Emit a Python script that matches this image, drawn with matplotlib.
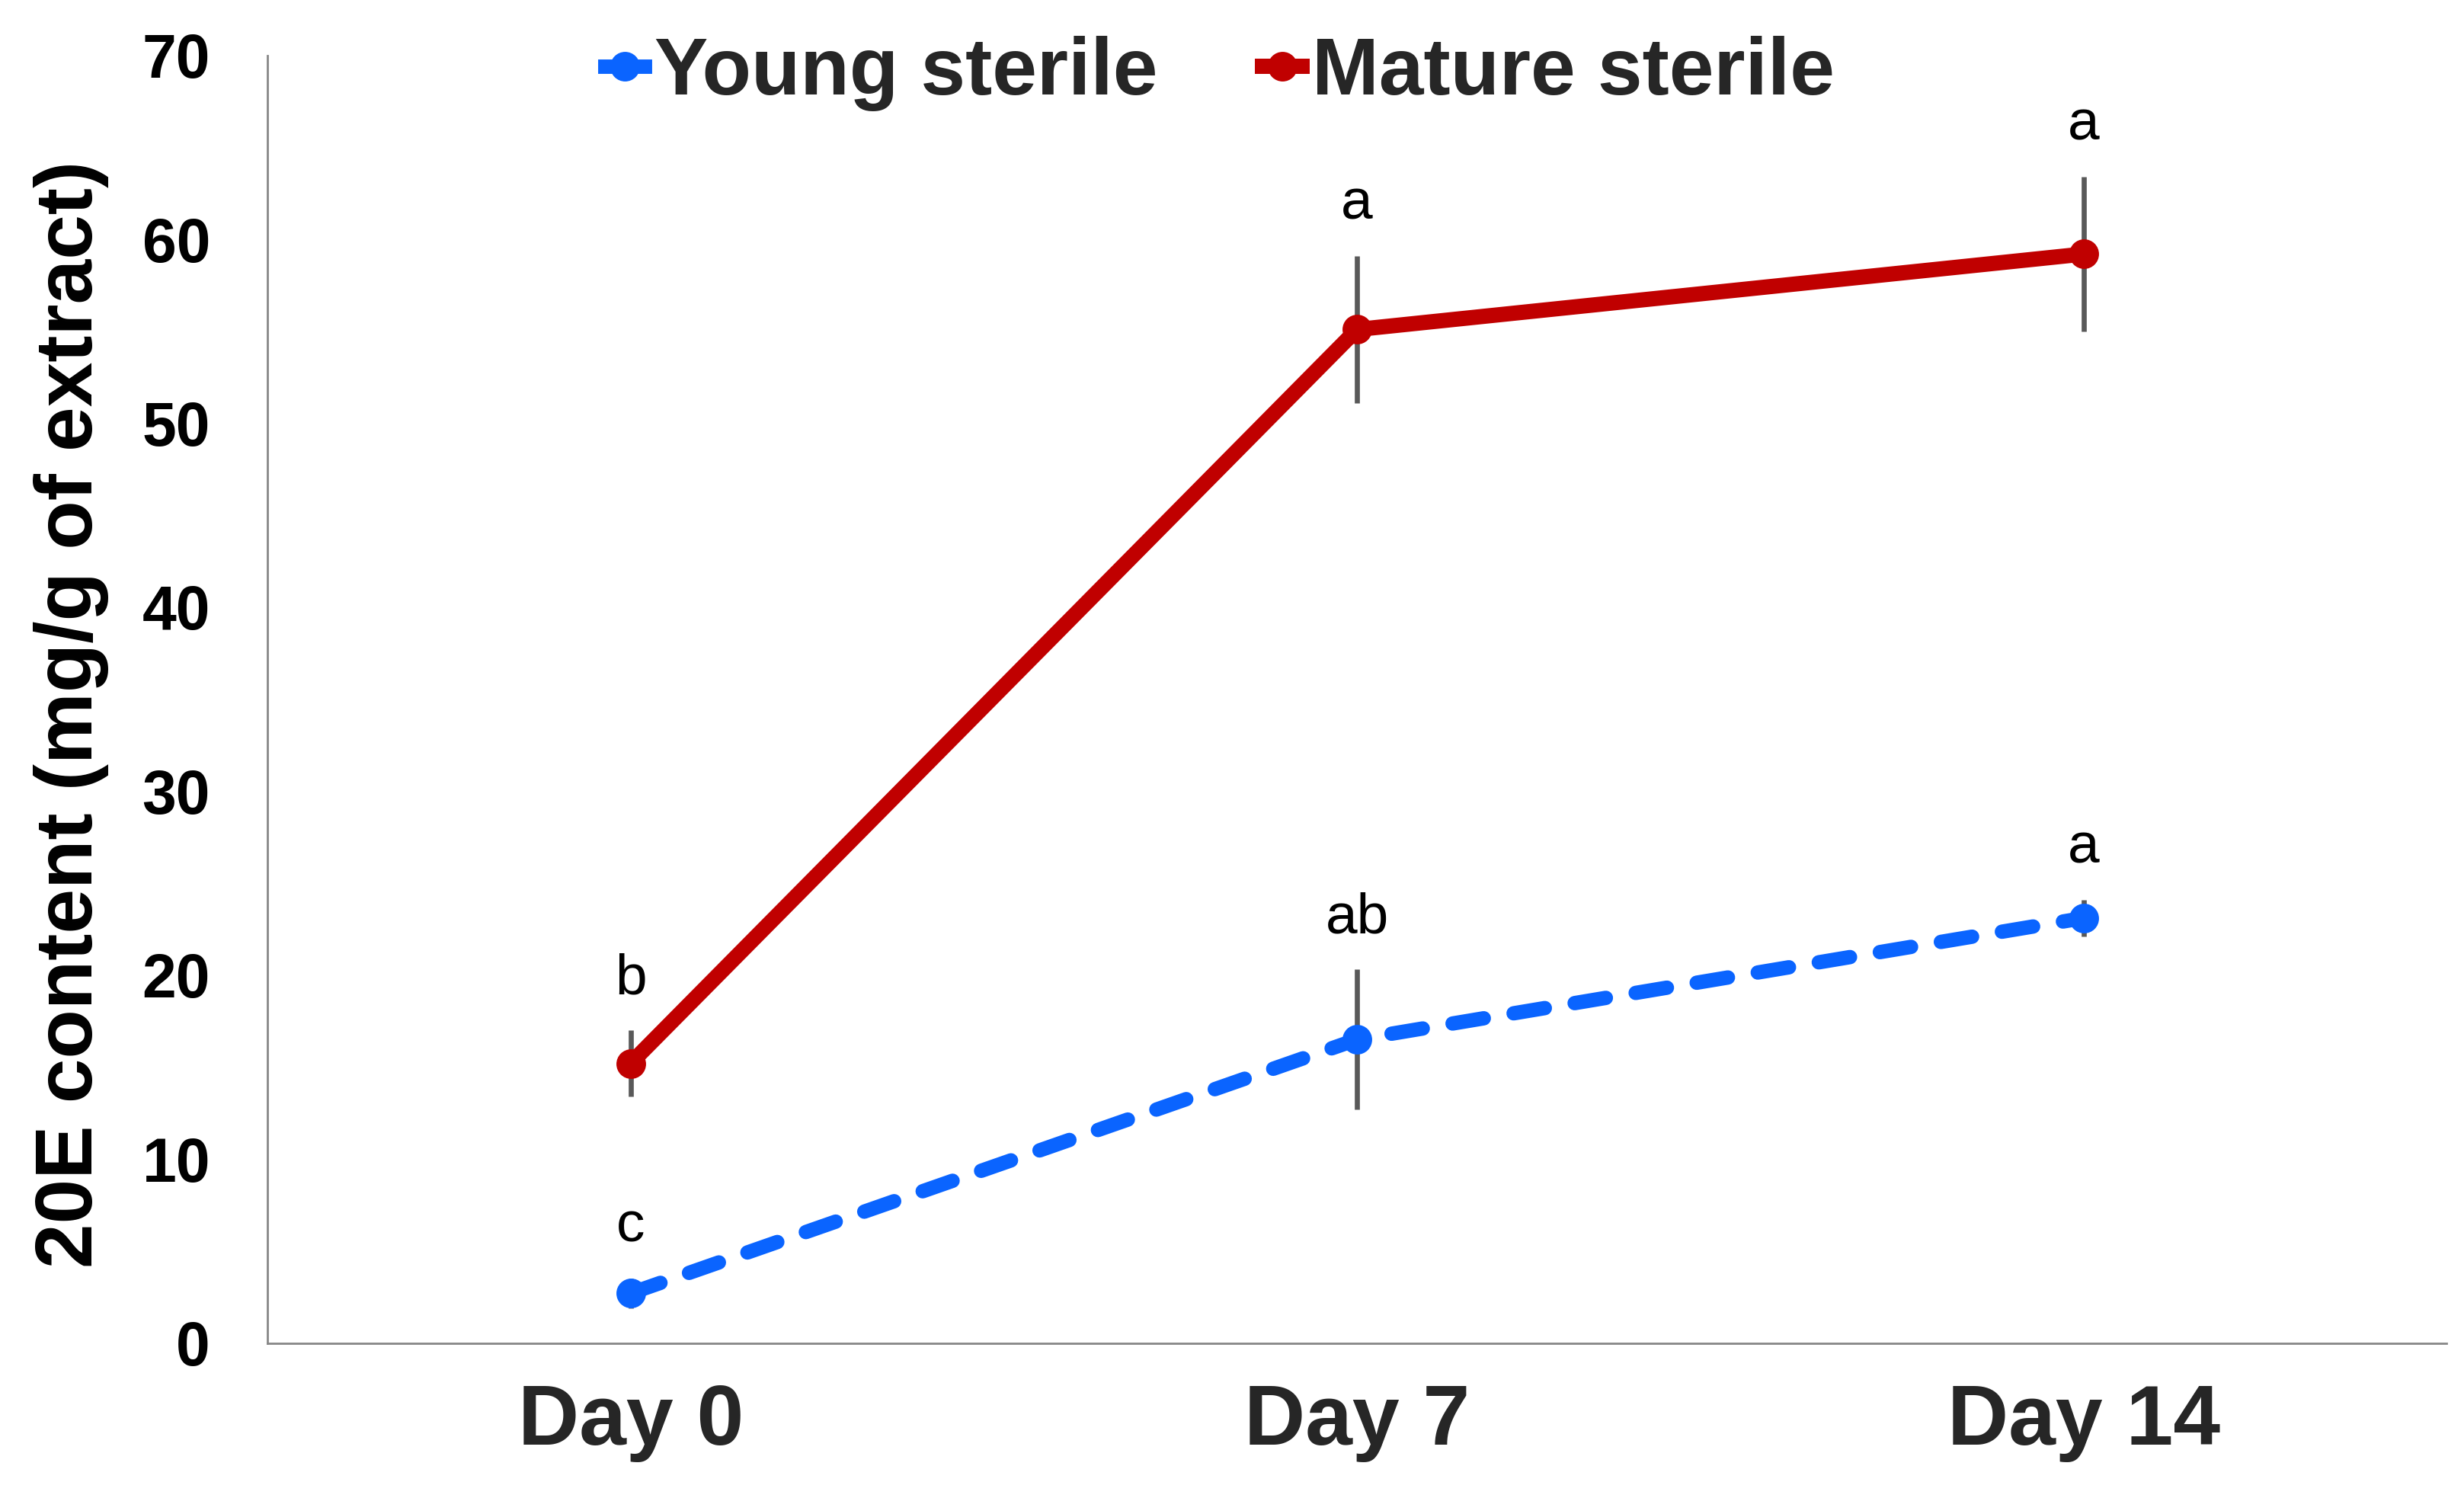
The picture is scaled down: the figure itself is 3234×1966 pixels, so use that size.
import matplotlib
matplotlib.use('Agg')
import matplotlib.pyplot as plt
from matplotlib.lines import Line2D

# Data
days = ['Day 0', 'Day 7', 'Day 14']
young_mean = [2.7, 16.5, 23.1]
young_err = [0.8, 3.8, 1.0]
young_letters = ['c', 'ab', 'a']
mature_mean = [15.2, 55.1, 59.2]
mature_err = [1.8, 4.0, 4.2]
mature_letters = ['b', 'a', 'a']

plt.rcParams['font.family'] = ['Liberation Sans', 'DejaVu Sans']

blue = '#0A64FF'
red = '#C00000'
err_col = '#595959'

fig = plt.figure(figsize=(16.17, 9.83), dpi=200)
ax = fig.add_axes([0.1085, 0.1035, 0.8845, 0.8595])

x = list(range(len(days)))

# error bars first, lines on top
ax.errorbar(x, mature_mean, yerr=mature_err, fmt='none', ecolor=err_col, elinewidth=2.4, capsize=0, zorder=2)
ax.errorbar(x, young_mean, yerr=young_err, fmt='none', ecolor=err_col, elinewidth=2.4, capsize=0, zorder=2)

ax.plot(x, young_mean, color=blue, lw=6.8, linestyle=(0, (2.2, 2.1)), dash_capstyle='round',
        marker='o', markersize=13, zorder=3)
ax.plot(x, mature_mean, color=red, lw=7.2, solid_capstyle='round',
        marker='o', markersize=13, zorder=4)

# significance letters
for i in x:
    ax.text(i, young_mean[i] + young_err[i] + 2.8, young_letters[i], ha='center', va='center',
            fontsize=27, color='black')
    ax.text(i, mature_mean[i] + mature_err[i] + 2.8, mature_letters[i], ha='center', va='center',
            fontsize=27, color='black')

ax.set_xlim(-0.5, 2.5)
ax.set_ylim(0, 70)
ax.set_yticks(range(0, 71, 10))
ax.set_xticks(x)
ax.set_xticklabels(days, fontsize=40, fontweight='bold', color='#262626')
ax.tick_params(axis='y', length=0, pad=27, labelsize=29)
ax.tick_params(axis='x', length=0, pad=19)
for lab in ax.get_yticklabels():
    lab.set_fontweight('bold')

for s in ['top', 'right']:
    ax.spines[s].set_visible(False)
for s in ['left', 'bottom']:
    ax.spines[s].set_color('#888888')
    ax.spines[s].set_linewidth(1.0)

fig.text(0.029, 0.523, '20E content (mg/g of extract)', rotation=90, ha='center', va='center',
         fontsize=38, fontweight='bold', color='black')

handles = [
    Line2D([], [], color=blue, lw=6.8, marker='o', markersize=13),
    Line2D([], [], color=red, lw=7.2, marker='o', markersize=13),
]
leg = fig.legend(handles, ['Young sterile', 'Mature sterile'], loc='center', bbox_to_anchor=(0.495, 0.951),
                 ncol=2, frameon=False, handlelength=0.5, handletextpad=0.12, columnspacing=1.3,
                 prop={'size': 38, 'weight': 'bold'})
for t in leg.get_texts():
    t.set_color('#262626')

fig.savefig('out.png', dpi=200)
